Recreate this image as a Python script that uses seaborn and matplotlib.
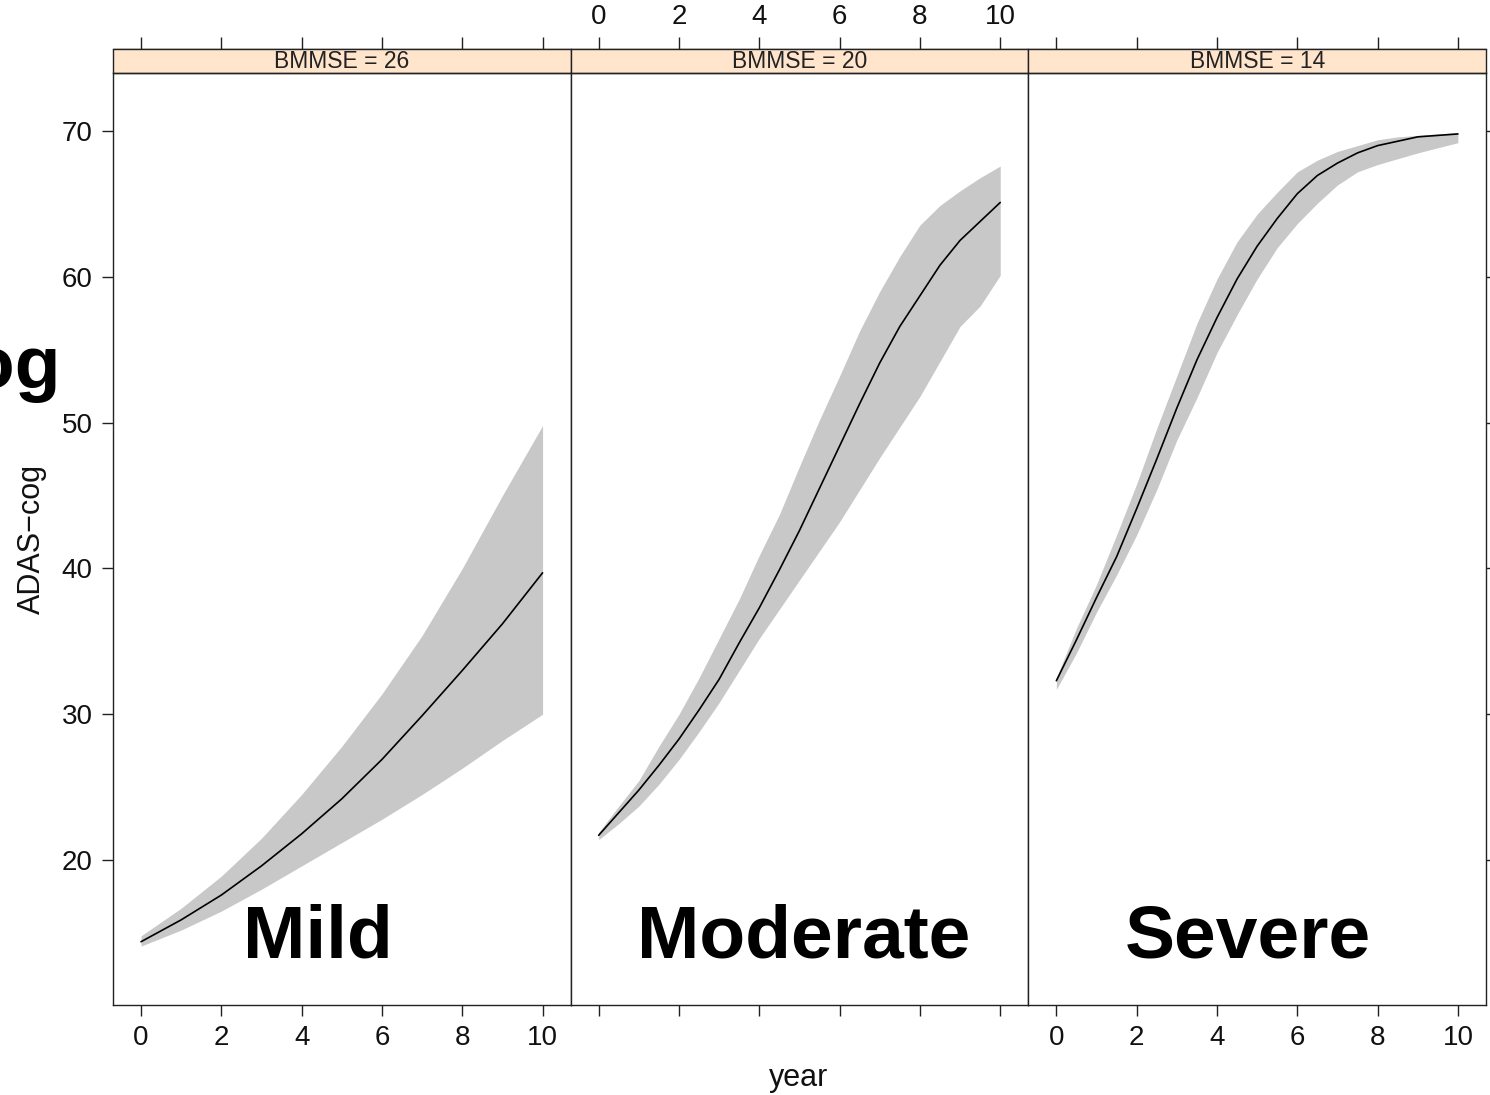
import matplotlib
matplotlib.use("Agg")
import matplotlib.pyplot as plt
import matplotlib.patches as mpatches
import pandas as pd
import seaborn as sns

# values
strips = ["BMMSE = 26", "BMMSE = 20", "BMMSE = 14"]
stages = ["Mild", "Moderate", "Severe"]

mild_years = [0, 1, 2, 3, 4, 5, 6, 7, 8, 9, 10]
mild_mean = [14.4, 15.9, 17.6, 19.6, 21.8, 24.2, 26.9, 29.9, 33.0, 36.2, 39.7]
mild_lo = [14.1, 15.2, 16.5, 18.0, 19.6, 21.2, 22.8, 24.5, 26.3, 28.2, 30.0]
mild_hi = [14.8, 16.7, 18.9, 21.5, 24.5, 27.8, 31.4, 35.4, 40.0, 45.0, 49.8]

half_years = [0, 0.5, 1, 1.5, 2, 2.5, 3, 3.5, 4, 4.5, 5,
              5.5, 6, 6.5, 7, 7.5, 8, 8.5, 9, 9.5, 10]
mod_mean = [21.7, 23.25, 24.8, 26.5, 28.3, 30.3, 32.4, 34.9, 37.3, 39.9, 42.6,
            45.5, 48.4, 51.3, 54.1, 56.6, 58.7, 60.8, 62.5, 63.8, 65.1]
mod_lo = [21.4, 22.5, 23.7, 25.2, 26.9, 28.8, 30.8, 33.0, 35.2, 37.2, 39.2,
          41.2, 43.2, 45.4, 47.6, 49.7, 51.8, 54.2, 56.6, 58.0, 60.1]
mod_hi = [21.9, 23.7, 25.45, 27.8, 30.0, 32.5, 35.2, 37.9, 40.9, 43.7, 47.0,
          50.2, 53.2, 56.3, 59.0, 61.4, 63.55, 64.9, 65.9, 66.8, 67.6]

sev_mean = [32.3, 35.1, 38.0, 40.8, 44.1, 47.5, 51.0, 54.3, 57.2, 59.85, 62.1,
            64.0, 65.7, 66.95, 67.8, 68.5, 69.0, 69.3, 69.6, 69.7, 69.8]
sev_lo = [31.7, 34.2, 37.0, 39.55, 42.3, 45.4, 48.8, 51.7, 54.8, 57.4, 59.85,
          62.0, 63.65, 65.05, 66.3, 67.2, 67.7, 68.1, 68.5, 68.85, 69.2]
sev_hi = [32.5, 35.9, 38.9, 42.3, 45.8, 49.6, 53.2, 56.8, 59.85, 62.4, 64.3,
          65.8, 67.2, 68.0, 68.6, 69.0, 69.4, 69.6, 69.7, 69.8, 69.9]

x_ticks = [0, 2, 4, 6, 8, 10]
y_ticks = [20, 30, 40, 50, 60, 70]

sns.set_style("ticks")
plt.rcParams["font.family"] = ["Liberation Sans", "DejaVu Sans"]
plt.rcParams.update({
    "axes.edgecolor": "#222222",
    "axes.linewidth": 1.0,
    "xtick.color": "#222222",
    "ytick.color": "#222222",
    "xtick.labelcolor": "#111111",
    "ytick.labelcolor": "#111111",
    "text.color": "#111111",
    "axes.labelcolor": "#111111",
})

BAND = "#C8C8C8"
STRIP = "#FFE5CC"

series = [(mild_years, mild_mean, mild_lo, mild_hi),
          (half_years, mod_mean, mod_lo, mod_hi),
          (half_years, sev_mean, sev_lo, sev_hi)]
label_x = [4.40, 5.11, 4.76]

fig, axes = plt.subplots(1, 3, sharey=True, figsize=(14.9, 10.95), dpi=100)
fig.subplots_adjust(left=113 / 1490, right=1486 / 1490,
                    bottom=90 / 1095, top=1022 / 1095, wspace=0)

strip_h = 24 / 932
for i, ax in enumerate(axes):
    yrs, mean, lo, hi = series[i]
    df = pd.DataFrame({"year": yrs, "adas": mean})
    ax.fill_between(yrs, lo, hi, color=BAND, lw=0)
    sns.lineplot(data=df, x="year", y="adas", ax=ax, color="black", lw=1.2)
    ax.set_xlim(-0.698, 10.70)
    ax.set_ylim(10.06, 73.98)
    ax.set_xticks(x_ticks)
    ax.set_yticks(y_ticks)
    ax.set_xlabel("")
    ax.set_ylabel("")
    ax.tick_params(axis="both", direction="out", length=8, width=1,
                   labelsize=20, pad=6.5)

    # lattice-style strip on top of each panel
    ax.add_patch(mpatches.Rectangle((0, 1), 1, strip_h, transform=ax.transAxes,
                                    clip_on=False, facecolor=STRIP,
                                    edgecolor="#222222", lw=1.0))
    ax.text(0.5, 1 + strip_h / 2, strips[i], transform=ax.transAxes,
            ha="center", va="center", fontsize=16.5, color="#222222")

    # ticks above the strip
    top = ax.secondary_xaxis(1 + strip_h)
    top.set_xticks(x_ticks)
    top.tick_params(direction="out", length=8.5, width=1, labelsize=20, pad=5)
    if i != 1:
        top.set_xticklabels([])
    if i == 1:
        ax.set_xticklabels([])

    ax.text(label_x[i], 13.3, stages[i], ha="center", va="baseline",
            fontsize=54, fontweight="bold", color="black")

axes[0].tick_params(axis="y", left=True)
axes[1].tick_params(axis="y", left=False)
axes[2].tick_params(axis="y", left=False, right=True, labelright=False)

axes[0].set_ylabel("ADAS\u2212cog", fontsize=22)
axes[0].yaxis.set_label_coords(-0.144, 0.5)

fig.text(799 / 1490, 1 - 1086 / 1095, "year", ha="center", va="baseline",
         fontsize=22)

# heading that the reference shows cropped at the far left edge
fig.text(61 / 1490, 1 - 388 / 1095, "ADAS-cog", ha="right", va="baseline",
         fontsize=54, fontweight="bold", color="black")

fig.savefig("out.png", dpi=100)
